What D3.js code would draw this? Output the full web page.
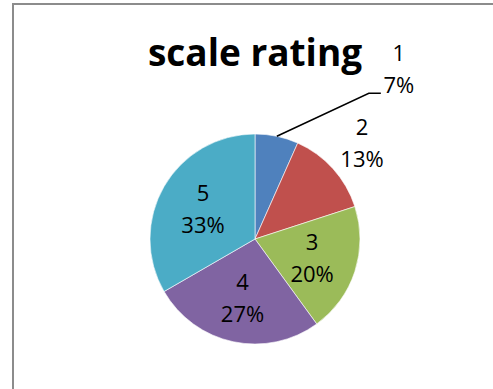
<!DOCTYPE html>
<html>
<head>
<meta charset="utf-8">
<script src="https://cdn.jsdelivr.net/npm/d3@7"></script>
<style>
  html, body { margin: 0; padding: 0; background: #fff; }
  svg { display: block; }
</style>
</head>
<body>
<svg id="chart"></svg>
<script>
const ratings = ["1", "2", "3", "4", "5"];
const counts = [1, 2, 3, 4, 5];
const colors = ["#4F81BD", "#C0504D", "#9BBB59", "#8064A2", "#4BACC6"];
const title = "scale rating";

const width = 493;
const height = 389;
const cx = 255;
const cy = 239;
const radius = 105;

const svg = d3.select("#chart")
  .attr("width", width)
  .attr("height", height);

// chart frame (only top and left edges show in the crop)
svg.append("path")
  .attr("d", `M13,${height} V4 H${width}`)
  .attr("fill", "none")
  .attr("stroke", "#8c8c8c")
  .attr("stroke-width", 2);

svg.append("text")
  .attr("x", cx)
  .attr("y", 66)
  .attr("text-anchor", "middle")
  .style("font-family", "'Open Sans', sans-serif")
  .style("font-weight", "bold")
  .style("font-size", "37px")
  .attr("fill", "#000")
  .text(title);

const total = d3.sum(counts);
const pie = d3.pie().sort(null).value(d => d)(counts);

const arc = d3.arc().innerRadius(0).outerRadius(radius);
const innerLabelArc = d3.arc().innerRadius(60).outerRadius(60);
const outerLabelArc = d3.arc().innerRadius(144).outerRadius(144);
const edgeArc = d3.arc().innerRadius(radius).outerRadius(radius);

const g = svg.append("g").attr("transform", `translate(${cx},${cy})`);

g.selectAll("path.slice")
  .data(pie)
  .join("path")
  .attr("class", "slice")
  .attr("d", arc)
  .attr("fill", (d, i) => colors[i])
  .attr("stroke", "#fff")
  .attr("stroke-width", 0.6);

const pct = v => Math.round(v / total * 100) + "%";

// where each label block sits
const labelPos = (d, i) => {
  const share = d.value / total;
  if (share < 0.1) {
    // pulled-out label with leader line
    const [ex, ey] = edgeArc.centroid(d);
    return [ex + 122, ey - 67];
  }
  if (share < 0.15) return outerLabelArc.centroid(d);
  return innerLabelArc.centroid(d);
};

// leader line for the tiny slice
pie.forEach((d, i) => {
  if (d.value / total >= 0.1) return;
  const [ex, ey] = edgeArc.centroid(d);
  const [lx, ly] = labelPos(d, i);
  g.append("polyline")
    .attr("points", [[ex, ey], [lx - 30, ly + 24], [lx - 18, ly + 24]].map(p => p.join(",")).join(" "))
    .attr("fill", "none")
    .attr("stroke", "#000")
    .attr("stroke-width", 1.5);
});

const labels = g.selectAll("g.label")
  .data(pie)
  .join("g")
  .attr("class", "label")
  .attr("transform", (d, i) => `translate(${labelPos(d, i)})`)
  .style("font-family", "'Open Sans', sans-serif")
  .style("font-size", "22px")
  .attr("fill", "#000")
  .attr("text-anchor", "middle");

labels.append("text")
  .attr("y", -8)
  .text((d, i) => ratings[i]);

labels.append("text")
  .attr("y", 24)
  .text(d => pct(d.value));
</script>
</body>
</html>
